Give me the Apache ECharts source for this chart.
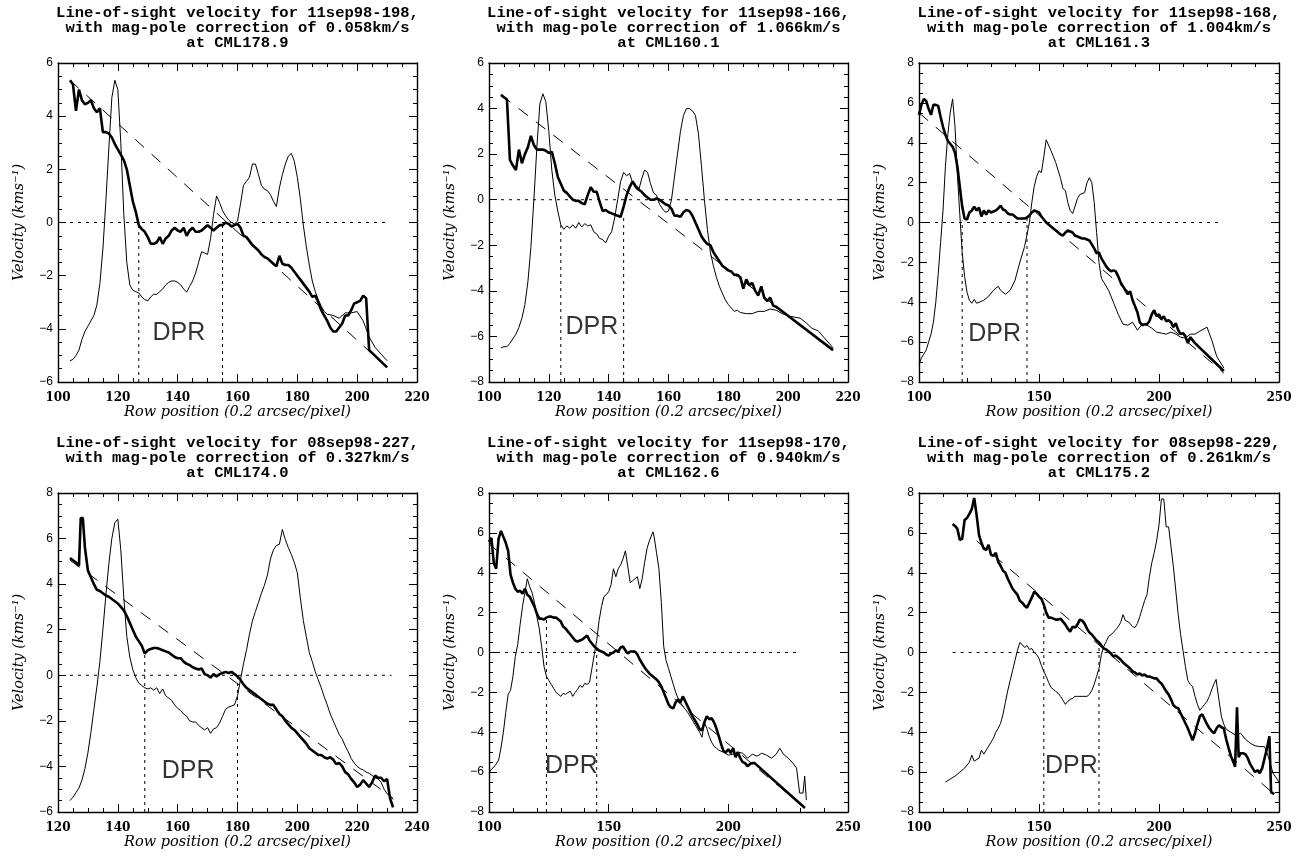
<!DOCTYPE html>
<html><head><meta charset="utf-8">
<script src="https://cdn.jsdelivr.net/npm/echarts@6/dist/echarts.min.js"></script>
<style>html,body{margin:0;padding:0;background:#fff}#c{width:1312px;height:860px}</style>
</head><body><div id="c"></div>
<script>
// ---------- Panel titles ----------
const titles = [
  "Line-of-sight velocity for 11sep98-198,\nwith mag-pole correction of 0.058km/s\nat CML178.9",
  "Line-of-sight velocity for 11sep98-166,\nwith mag-pole correction of 1.066km/s\nat CML160.1",
  "Line-of-sight velocity for 11sep98-168,\nwith mag-pole correction of 1.004km/s\nat CML161.3",
  "Line-of-sight velocity for 08sep98-227,\nwith mag-pole correction of 0.327km/s\nat CML174.0",
  "Line-of-sight velocity for 11sep98-170,\nwith mag-pole correction of 0.940km/s\nat CML162.6",
  "Line-of-sight velocity for 08sep98-229,\nwith mag-pole correction of 0.261km/s\nat CML175.2"
];
const xTitle = "Row position (0.2 arcsec/pixel)";
const yTitle = "Velocity (kms\u207B\u00B9)";
const dprText = "DPR";

// ---------- Axis ranges [min, max, interval, minor splits] ----------
const xRanges = [[100,220,20,4],[100,220,20,4],[100,250,50,5],[120,240,20,4],[100,250,50,5],[100,250,50,5]];
const yRanges = [[-6,6,2,4],[-8,6,2,4],[-8,8,2,4],[-6,8,2,4],[-8,8,2,4],[-8,8,2,4]];

// ---------- Panel 1 ----------
const p1Velocity = [[104,5.35],[105,5.2],[106,4.2],[107,5.0],[108,4.6],[109,4.45],[110,4.5],[111,4.6],[112,4.3],[113,4.15],[114,4.3],[115,3.4],[116,3.4],[117,3.35],[118,3.2],[119,2.95],[120,2.75],[121,2.55],[122,2.35],[123,2.0],[124,1.4],[125,0.8],[126,0.4],[127,-0.1],[128,-0.25],[129,-0.35],[130,-0.55],[131,-0.8],[132,-0.8],[133,-0.75],[134,-0.55],[135,-0.8],[136,-0.6],[137,-0.5],[138,-0.3],[139,-0.2],[140,-0.3],[141,-0.35],[142,-0.2],[143,-0.5],[144,-0.3],[145,-0.2],[146,-0.35],[147,-0.35],[148,-0.3],[149,-0.2],[150,-0.1],[151,-0.2],[152,-0.3],[153,-0.2],[154,-0.1],[155,-0.1],[156,0.0],[157,-0.05],[158,-0.15],[159,-0.1],[160,-0.05],[161,-0.2],[162,-0.5],[163,-0.55],[164,-0.7],[165,-0.85],[166,-0.95],[167,-1.05],[168,-1.2],[169,-1.3],[170,-1.35],[171,-1.45],[172,-1.55],[173,-1.65],[174,-1.25],[175,-1.55],[176,-1.6],[177,-1.6],[178,-1.7],[179,-1.85],[180,-2.0],[181,-2.15],[182,-2.3],[183,-2.45],[184,-2.6],[185,-2.8],[186,-2.75],[187,-3.0],[188,-3.3],[189,-3.5],[190,-3.7],[191,-3.95],[192,-4.1],[193,-4.1],[194,-3.95],[195,-3.8],[196,-3.5],[197,-3.5],[198,-3.3],[199,-3.05],[200,-3.0],[201,-2.95],[202,-2.75],[203,-2.85],[204,-4.8],[210,-5.45]];
const p1Intensity = [[104,-5.2],[105,-5.15],[106,-5.0],[107,-4.8],[108,-4.4],[109,-4.1],[110,-3.9],[111,-3.7],[112,-3.5],[113,-3.1],[114,-2.3],[115,-1.0],[116,0.8],[117,2.8],[118,4.7],[119,5.35],[120,5.0],[121,3.0],[122,0.3],[123,-1.5],[124,-2.35],[125,-2.55],[126,-2.6],[127,-2.65],[128,-2.8],[129,-2.9],[130,-2.95],[131,-2.8],[132,-2.7],[133,-2.7],[134,-2.6],[135,-2.5],[136,-2.35],[137,-2.25],[138,-2.2],[139,-2.2],[140,-2.25],[141,-2.35],[142,-2.5],[143,-2.62],[144,-2.4],[145,-2.2],[146,-1.9],[147,-1.5],[148,-1.1],[149,-1.15],[150,-1.2],[151,-0.6],[152,0.3],[153,1.0],[154,0.75],[155,0.45],[156,0.25],[157,0.1],[158,0.0],[159,-0.05],[160,0.05],[161,0.7],[162,1.4],[163,1.55],[164,1.7],[165,2.2],[166,2.2],[167,1.8],[168,1.4],[169,1.25],[170,1.2],[171,1.05],[172,0.8],[173,0.6],[174,1.3],[175,1.8],[176,2.2],[177,2.5],[178,2.6],[179,2.3],[180,1.7],[181,0.9],[182,-0.1],[183,-0.9],[184,-1.6],[185,-2.2],[186,-2.6],[187,-2.9],[188,-3.15],[189,-3.35],[190,-3.45],[192,-3.5],[194,-3.6],[196,-3.4],[198,-3.4],[200,-3.35],[202,-3.7],[204,-4.3],[206,-4.7],[208,-4.95],[210,-5.2]];
const p1Fit = [[104,5.35],[210,-5.45]];
const p1ZeroSpan = [104,210];
const p1Dpr = [[127,-0.15],[155,-0.1]];
const p1DprAt = [140.4,-4.15];

// ---------- Panel 2 ----------
const p2Velocity = [[104,4.6],[105,4.5],[106,4.4],[107,1.75],[108,1.5],[109,1.3],[110,2.2],[111,1.6],[112,2.0],[113,2.3],[114,2.8],[115,2.4],[116,2.2],[117,2.2],[118,2.2],[119,2.15],[120,2.05],[121,2.1],[122,1.6],[123,1.0],[124,0.7],[125,0.4],[126,0.3],[127,0.15],[128,0.0],[129,-0.05],[130,-0.05],[131,-0.15],[132,-0.2],[133,0.2],[134,0.55],[135,0.35],[136,0.35],[137,-0.1],[138,-0.5],[139,-0.45],[140,-0.55],[141,-0.6],[142,-0.65],[143,-0.7],[144,-0.75],[145,-0.3],[146,0.2],[147,0.55],[148,0.8],[149,0.6],[150,0.45],[151,0.35],[152,0.2],[153,0.1],[154,0.0],[155,0.0],[156,0.05],[157,0.0],[158,-0.1],[159,-0.2],[160,-0.25],[161,-0.4],[162,-0.7],[163,-0.7],[164,-0.75],[165,-0.55],[166,-0.45],[167,-0.5],[168,-0.7],[169,-1.0],[170,-1.3],[171,-1.6],[172,-1.8],[173,-1.95],[174,-2.0],[175,-2.3],[176,-2.5],[177,-2.7],[178,-2.9],[179,-3.0],[180,-3.1],[181,-3.15],[182,-3.3],[183,-3.3],[184,-3.4],[185,-3.9],[186,-3.5],[187,-3.75],[188,-3.65],[189,-4.0],[190,-4.2],[191,-3.8],[192,-4.3],[193,-4.45],[194,-4.3],[195,-4.65],[196,-4.7],[215,-6.6]];
const p2Intensity = [[104,-6.5],[105,-6.45],[106,-6.45],[107,-6.3],[108,-6.1],[109,-5.9],[110,-5.6],[111,-5.2],[112,-4.6],[113,-3.6],[114,-2.1],[115,0.0],[116,2.3],[117,4.2],[118,4.65],[119,4.3],[120,3.0],[121,1.3],[122,0.2],[123,-0.5],[124,-1.1],[125,-1.3],[126,-1.15],[127,-1.25],[128,-1.1],[129,-1.25],[130,-1.0],[131,-1.2],[132,-1.05],[133,-1.15],[134,-1.1],[135,-1.4],[136,-1.5],[137,-1.7],[138,-1.75],[139,-1.9],[140,-1.6],[141,-1.4],[142,-0.8],[143,0.0],[144,0.8],[145,1.2],[146,1.05],[147,1.15],[148,0.75],[149,0.5],[150,0.4],[151,0.9],[152,1.3],[153,1.2],[154,0.7],[155,0.3],[156,0.2],[157,-0.2],[158,-0.4],[159,-0.55],[160,-0.5],[161,0.0],[162,1.0],[163,2.0],[164,3.0],[165,3.7],[166,4.0],[167,4.0],[168,3.9],[169,3.7],[170,2.9],[171,1.5],[172,0.0],[173,-1.3],[174,-2.3],[175,-2.9],[176,-3.4],[177,-3.8],[178,-4.1],[179,-4.4],[180,-4.6],[181,-4.75],[182,-4.9],[183,-4.85],[184,-4.95],[186,-5.0],[188,-5.0],[190,-4.9],[192,-4.9],[194,-4.8],[196,-4.85],[198,-5.0],[200,-5.1],[202,-5.15],[204,-5.2],[206,-5.4],[208,-5.65],[210,-5.75],[212,-6.05],[215,-6.5]];
const p2Fit = [[104,4.6],[215,-6.6]];
const p2ZeroSpan = [104,220];
const p2Dpr = [[124,-1.1],[145,-0.65]];
const p2DprAt = [134.4,-5.6];

// ---------- Panel 3 ----------
const p3Velocity = [[100,5.4],[101,5.9],[102,6.2],[103,6.1],[104,5.7],[105,5.4],[106,5.9],[107,5.9],[108,5.85],[109,5.3],[110,4.8],[111,4.4],[112,4.1],[113,3.95],[114,3.8],[115,3.5],[116,2.8],[117,1.8],[118,0.8],[119,0.2],[120,0.15],[121,0.5],[122,0.6],[123,0.8],[124,0.6],[125,0.75],[126,0.3],[127,0.6],[128,0.4],[129,0.6],[130,0.5],[131,0.55],[132,0.6],[133,0.7],[134,0.85],[135,0.65],[136,0.6],[137,0.45],[138,0.4],[139,0.4],[140,0.3],[141,0.2],[142,0.2],[143,0.2],[144,0.2],[145,0.25],[146,0.35],[147,0.5],[148,0.6],[149,0.55],[150,0.5],[151,0.3],[152,0.15],[153,0.0],[154,-0.1],[155,-0.2],[156,-0.3],[157,-0.4],[158,-0.5],[159,-0.6],[160,-0.65],[161,-0.5],[162,-0.4],[163,-0.45],[164,-0.5],[165,-0.65],[166,-0.7],[167,-0.75],[168,-0.8],[169,-0.8],[170,-0.85],[171,-0.9],[172,-1.1],[173,-1.3],[174,-1.55],[175,-1.5],[176,-1.8],[177,-2.0],[178,-2.2],[179,-2.35],[180,-2.45],[181,-2.4],[182,-2.45],[183,-2.7],[184,-3.0],[185,-3.2],[186,-3.4],[187,-3.6],[188,-3.45],[189,-3.9],[190,-4.2],[191,-4.5],[192,-5.0],[193,-5.15],[194,-5.1],[195,-5.1],[196,-4.95],[197,-4.6],[198,-4.4],[199,-4.7],[200,-4.6],[201,-4.85],[202,-4.7],[203,-4.95],[204,-4.9],[205,-5.0],[206,-5.25],[207,-5.05],[208,-5.4],[209,-5.6],[210,-5.55],[211,-5.7],[212,-6.05],[213,-5.75],[214,-5.9],[215,-6.05],[227,-7.45]];
const p3Intensity = [[100,-7.1],[101,-6.8],[102,-6.6],[103,-6.4],[104,-6.0],[105,-5.6],[106,-5.0],[107,-4.0],[108,-2.6],[109,-1.0],[110,0.6],[111,2.8],[112,4.4],[113,5.5],[114,6.2],[115,4.8],[116,2.4],[117,0.4],[118,-1.5],[119,-2.7],[120,-3.5],[121,-3.9],[122,-4.05],[123,-3.85],[124,-4.05],[125,-4.0],[127,-3.9],[129,-3.7],[131,-3.4],[132,-3.3],[133,-3.2],[134,-3.4],[135,-3.5],[136,-3.6],[138,-3.4],[140,-2.9],[142,-2.0],[144,-1.2],[146,0.0],[147,1.0],[148,1.8],[149,2.3],[150,2.6],[151,2.5],[152,3.3],[153,4.15],[155,3.6],[157,3.0],[159,2.2],[160,1.7],[161,1.6],[162,1.0],[163,0.6],[164,0.45],[165,0.8],[166,1.2],[167,1.4],[169,1.5],[170,2.0],[171,2.25],[172,2.0],[173,1.0],[174,-0.5],[175,-2.0],[176,-2.8],[177,-3.0],[179,-3.4],[181,-4.0],[183,-4.6],[185,-5.1],[187,-5.15],[189,-5.0],[191,-5.4],[193,-5.1],[195,-5.15],[197,-5.3],[199,-5.5],[201,-5.55],[203,-5.6],[205,-5.5],[207,-5.6],[209,-5.75],[211,-5.8],[213,-5.6],[215,-5.6],[217,-5.45],[220,-5.25],[222,-5.9],[224,-6.7],[226,-7.1],[227,-7.3]];
const p3Fit = [[100,5.5],[227,-7.55]];
const p3ZeroSpan = [100,225];
const p3Dpr = [[118,0.1],[145,0.2]];
const p3DprAt = [131.5,-5.6];

// ---------- Panel 4 ----------
const p4Velocity = [[124,5.15],[125,5.05],[126,4.95],[127,4.8],[127.6,6.9],[128.3,6.9],[129,5.6],[130,4.6],[131,4.3],[132,4.0],[133,3.75],[134,3.7],[135,3.6],[136,3.5],[137,3.45],[138,3.35],[139,3.25],[140,3.15],[141,3.0],[142,2.85],[143,2.6],[144,2.3],[145,2.0],[146,1.7],[147,1.5],[148,1.3],[149,0.95],[150,1.1],[151,1.15],[152,1.2],[153,1.2],[154,1.15],[155,1.1],[156,1.05],[157,1.0],[158,0.9],[159,0.8],[160,0.75],[161,0.75],[162,0.6],[163,0.5],[164,0.45],[165,0.35],[166,0.3],[167,0.25],[168,0.3],[169,0.05],[170,0.0],[171,-0.1],[172,0.05],[173,-0.05],[174,0.05],[175,0.1],[176,0.15],[177,0.1],[178,0.15],[179,0.05],[180,-0.05],[181,-0.2],[182,-0.4],[183,-0.55],[184,-0.65],[185,-0.75],[186,-0.85],[187,-0.95],[188,-1.05],[189,-1.15],[190,-1.25],[191,-1.3],[192,-1.3],[193,-1.5],[194,-1.7],[195,-1.8],[196,-2.0],[197,-2.15],[198,-2.3],[199,-2.4],[200,-2.55],[201,-2.7],[202,-2.85],[203,-3.0],[204,-3.2],[205,-3.3],[206,-3.4],[207,-3.5],[208,-3.5],[209,-3.6],[210,-3.65],[211,-3.6],[212,-3.7],[213,-3.9],[214,-3.85],[215,-4.0],[216,-4.25],[217,-4.35],[218,-4.55],[219,-4.7],[220,-4.9],[221,-4.8],[222,-4.6],[223,-4.75],[224,-4.9],[225,-4.7],[226,-4.4],[227,-4.5],[228,-4.5],[229,-4.65],[230,-4.55],[231,-5.4],[232,-5.8]];
const p4Intensity = [[124,-5.5],[125,-5.35],[126,-5.15],[127,-4.95],[128,-4.6],[129,-4.1],[130,-3.4],[131,-2.5],[132,-1.5],[133,-0.5],[134,0.6],[135,2.0],[136,3.5],[137,4.9],[138,6.0],[139,6.7],[140,6.85],[141,5.5],[142,3.4],[143,1.7],[144,0.8],[145,0.25],[146,-0.1],[147,-0.35],[148,-0.45],[149,-0.55],[150,-0.6],[151,-0.55],[152,-0.65],[153,-0.55],[154,-0.8],[155,-0.6],[156,-0.9],[157,-1.0],[158,-1.1],[159,-1.3],[160,-1.45],[161,-1.55],[162,-1.7],[163,-1.8],[164,-2.0],[165,-2.05],[166,-2.05],[167,-2.2],[168,-2.3],[169,-2.4],[170,-2.3],[171,-2.55],[172,-2.35],[173,-2.3],[174,-2.1],[175,-1.8],[176,-1.5],[177,-1.4],[178,-1.35],[179,-1.3],[180,-0.9],[181,-0.2],[182,0.5],[183,1.1],[184,1.8],[185,2.4],[186,2.8],[187,3.2],[188,3.6],[189,3.95],[190,4.4],[191,5.1],[192,5.5],[193,5.7],[194,5.75],[195,6.4],[196,5.95],[197,5.6],[198,5.3],[199,4.95],[200,4.5],[201,3.4],[202,2.4],[203,1.7],[204,1.0],[205,0.6],[206,0.15],[207,-0.2],[208,-0.55],[209,-0.95],[210,-1.3],[211,-1.7],[212,-2.0],[213,-2.3],[214,-2.6],[215,-2.8],[216,-3.1],[217,-3.35],[218,-3.65],[219,-3.85],[220,-4.0],[221,-4.1],[222,-4.15],[223,-4.25],[224,-4.3],[225,-4.4],[226,-4.5],[227,-4.55],[228,-4.7],[229,-5.0],[230,-5.2],[231,-5.3],[232,-5.45]];
const p4Fit = [[124,5.05],[232,-5.4]];
const p4ZeroSpan = [124,231.5];
const p4Dpr = [[149,0.95],[180,-0.05]];
const p4DprAt = [163.5,-4.2];

// ---------- Panel 5 ----------
const p5Velocity = [[100,5.55],[101,5.75],[102,4.5],[103,4.2],[104,5.7],[105,6.1],[106,5.8],[107,5.5],[108,5.1],[109,3.9],[110,3.5],[111,3.2],[112,3.05],[113,3.1],[114,2.95],[115,3.2],[116,2.9],[117,2.8],[118,2.55],[119,2.3],[120,1.95],[121,1.7],[122,1.7],[123,1.65],[124,1.75],[125,1.8],[126,1.8],[127,1.75],[128,1.75],[129,1.65],[130,1.55],[131,1.3],[132,1.2],[133,1.05],[134,0.9],[135,0.75],[136,0.6],[137,0.55],[138,0.6],[139,0.65],[140,0.75],[141,0.85],[142,0.6],[143,0.45],[144,0.3],[145,0.2],[146,0.1],[147,0.05],[148,0.0],[149,-0.1],[150,-0.15],[151,-0.05],[152,0.0],[153,0.1],[154,0.05],[155,0.25],[156,0.3],[157,0.1],[158,-0.05],[159,0.05],[160,0.05],[161,0.05],[162,-0.1],[163,-0.35],[164,-0.55],[165,-0.75],[166,-0.9],[167,-1.05],[168,-1.15],[169,-1.25],[170,-1.35],[171,-1.5],[172,-1.7],[173,-2.0],[174,-2.3],[175,-2.6],[176,-2.75],[177,-2.8],[178,-2.5],[179,-2.35],[180,-2.5],[181,-2.2],[182,-2.45],[183,-2.7],[184,-2.95],[185,-3.2],[186,-3.4],[187,-3.6],[188,-3.85],[189,-3.9],[190,-3.5],[191,-3.2],[192,-3.35],[193,-3.3],[194,-3.5],[195,-3.8],[196,-4.2],[197,-4.6],[198,-4.95],[199,-5.0],[200,-4.85],[201,-5.05],[202,-4.8],[203,-5.25],[204,-5.0],[205,-5.3],[206,-5.5],[207,-5.55],[208,-5.7],[209,-5.6],[210,-5.55],[211,-5.55],[232,-7.8]];
const p5Intensity = [[100,-6.05],[101,-5.85],[102,-5.75],[103,-5.6],[104,-5.4],[105,-4.8],[106,-4.0],[107,-3.0],[108,-2.1],[109,-1.9],[110,-1.2],[111,-0.2],[112,0.4],[113,1.4],[114,2.3],[115,3.0],[116,3.7],[117,3.3],[118,3.0],[119,2.5],[120,1.8],[121,1.2],[122,0.3],[123,-0.7],[124,-1.2],[125,-1.4],[126,-1.6],[127,-1.8],[128,-2.0],[129,-2.1],[130,-2.2],[131,-2.05],[132,-2.1],[133,-2.0],[134,-1.95],[135,-2.2],[136,-2.0],[137,-1.85],[138,-1.65],[139,-1.75],[140,-1.55],[141,-1.6],[142,-1.5],[143,-0.8],[144,-0.1],[145,0.6],[146,1.6],[147,2.3],[148,2.8],[149,2.9],[150,3.05],[151,3.4],[152,4.2],[153,3.8],[154,4.2],[155,4.4],[156,4.7],[157,5.1],[158,4.3],[159,3.5],[160,3.6],[161,3.7],[162,3.8],[163,3.2],[164,3.7],[165,4.5],[166,5.2],[167,5.6],[168,5.9],[168.5,6.05],[169,5.8],[170,5.0],[171,4.2],[172,2.5],[173,0.3],[174,-0.4],[175,-0.8],[176,-1.2],[177,-1.6],[178,-2.0],[179,-2.3],[180,-2.5],[181,-2.7],[182,-2.85],[183,-3.0],[184,-3.2],[185,-3.4],[186,-3.6],[187,-3.8],[188,-4.0],[189,-4.25],[190,-3.5],[191,-3.8],[192,-4.2],[193,-4.5],[194,-4.7],[195,-4.8],[196,-4.9],[198,-5.0],[200,-5.15],[202,-5.1],[204,-5.0],[206,-5.05],[208,-5.3],[210,-5.1],[212,-5.2],[214,-5.05],[216,-5.15],[218,-5.3],[220,-5.1],[221.5,-4.8],[223,-5.1],[225,-5.3],[227,-5.55],[228.5,-5.8],[229.8,-7.05],[231.2,-7.05],[231.9,-6.2],[232.6,-7.4]];
const p5Fit = [[100,5.45],[232,-7.8]];
const p5ZeroSpan = [100,229];
const p5Dpr = [[124,1.8],[145,0.15]];
const p5DprAt = [134.4,-5.7];

// ---------- Panel 6 ----------
const p6Velocity = [[114,6.45],[115,6.35],[116,6.2],[117,5.65],[118,5.7],[119,6.65],[120,6.75],[121,6.95],[122,7.2],[123,7.75],[124,6.9],[125,5.9],[126,5.5],[127,5.2],[128,5.15],[129,5.4],[130,4.9],[131,4.85],[132,5.0],[133,4.55],[134,4.35],[135,4.1],[136,4.0],[137,3.7],[138,3.45],[139,3.2],[140,3.05],[141,2.9],[142,2.6],[143,2.5],[144,2.35],[145,2.25],[146,2.5],[147,2.75],[148,3.05],[149,2.95],[150,2.8],[151,2.7],[152,2.4],[153,2.0],[154,1.75],[155,1.75],[156,1.7],[157,1.65],[158,1.65],[159,1.7],[160,1.55],[161,1.4],[162,1.2],[163,1.05],[164,1.3],[165,1.25],[166,1.4],[167,1.65],[168,1.6],[169,1.45],[170,1.2],[171,1.0],[172,0.9],[173,0.75],[174,0.6],[175,0.5],[176,0.35],[177,0.2],[178,0.15],[179,0.05],[180,-0.05],[181,-0.2],[182,-0.15],[183,-0.25],[184,-0.35],[185,-0.5],[186,-0.6],[187,-0.7],[188,-0.8],[189,-0.95],[190,-1.0],[191,-1.1],[192,-1.05],[193,-1.15],[194,-1.1],[195,-1.2],[196,-1.2],[197,-1.25],[198,-1.3],[199,-1.3],[200,-1.45],[201,-1.55],[202,-1.75],[203,-1.95],[204,-2.1],[205,-2.35],[206,-2.65],[207,-2.75],[208,-2.8],[209,-3.05],[210,-3.3],[211,-3.55],[212,-3.8],[213,-4.1],[214,-4.4],[215,-4.05],[216,-3.6],[217,-3.2],[218,-3.1],[219,-3.35],[220,-3.6],[221,-3.8],[222,-3.95],[223,-4.05],[224,-3.8],[225,-3.65],[226,-3.75],[227,-3.8],[228,-4.35],[229,-4.8],[230,-5.2],[231,-5.5],[231.7,-5.73],[232.5,-2.75],[233.2,-5.25],[234,-5.05],[235,-5.05],[236,-5.1],[237,-5.3],[238,-5.6],[239,-5.8],[240,-6.0],[241,-5.9],[242,-6.05],[243,-5.8],[244,-5.3],[245,-4.8],[246,-4.2],[246.7,-7.0],[248,-7.1]];
const p6Intensity = [[111,-6.5],[113,-6.35],[115,-6.2],[117,-6.0],[119,-5.8],[121,-5.5],[122,-5.15],[123,-5.45],[125,-5.3],[126,-4.9],[127,-5.1],[128,-4.9],[130,-4.5],[131,-4.3],[132,-4.0],[133,-3.8],[134,-3.55],[135,-3.1],[136,-2.5],[137,-1.9],[138,-1.4],[139,-0.9],[140,-0.4],[141,0.1],[142,0.5],[143,0.4],[144,0.25],[145,0.35],[146,0.15],[147,0.2],[148,0.0],[149,-0.1],[150,-0.3],[151,-0.65],[152,-0.95],[153,-1.2],[154,-1.5],[155,-1.75],[156,-1.85],[157,-1.95],[158,-2.05],[159,-2.2],[160,-2.4],[161,-2.6],[162,-2.45],[163,-2.35],[164,-2.3],[165,-2.2],[166,-2.2],[168,-2.2],[170,-2.2],[171,-2.1],[172,-1.9],[173,-1.6],[174,-1.2],[175,-0.8],[176,-0.1],[177,0.3],[178,0.55],[179,0.8],[180,0.9],[181,1.0],[182,1.15],[183,1.3],[184,1.5],[185,1.9],[186,1.6],[187,1.55],[188,1.45],[189,1.3],[190,1.25],[191,1.45],[192,1.8],[193,2.2],[194,2.6],[195,2.9],[196,3.8],[197,4.5],[198,5.0],[199,5.6],[200,6.4],[201,7.7],[202,7.7],[203,6.3],[204,6.3],[205,5.3],[206,4.3],[207,3.1],[208,1.9],[209,0.9],[210,0.1],[211,-0.7],[212,-1.4],[213,-1.6],[214,-1.7],[215,-2.2],[216,-2.6],[217,-2.9],[218,-2.75],[219,-2.6],[220,-2.45],[221,-2.2],[222,-1.85],[223,-1.55],[223.8,-1.35],[225,-2.4],[226,-3.2],[227,-3.6],[228,-3.85],[230,-4.0],[232,-4.15],[234,-4.05],[236,-4.35],[238,-4.55],[240,-4.68],[242,-4.72],[244,-4.72],[245.5,-5.2],[247.5,-6.05],[250,-6.5]];
const p6Fit = [[124,5.6],[248,-7.1]];
const p6ZeroSpan = [114,250];
const p6Dpr = [[152,2.3],[175,0.5]];
const p6DprAt = [163.5,-5.7];

const panels = [
  {vel:p1Velocity, inten:p1Intensity, fit:p1Fit, zero:p1ZeroSpan, dpr:p1Dpr, dprAt:p1DprAt},
  {vel:p2Velocity, inten:p2Intensity, fit:p2Fit, zero:p2ZeroSpan, dpr:p2Dpr, dprAt:p2DprAt},
  {vel:p3Velocity, inten:p3Intensity, fit:p3Fit, zero:p3ZeroSpan, dpr:p3Dpr, dprAt:p3DprAt},
  {vel:p4Velocity, inten:p4Intensity, fit:p4Fit, zero:p4ZeroSpan, dpr:p4Dpr, dprAt:p4DprAt},
  {vel:p5Velocity, inten:p5Intensity, fit:p5Fit, zero:p5ZeroSpan, dpr:p5Dpr, dprAt:p5DprAt},
  {vel:p6Velocity, inten:p6Intensity, fit:p6Fit, zero:p6ZeroSpan, dpr:p6Dpr, dprAt:p6DprAt}
];

// ---------- Layout ----------
const colLeft = [58, 489, 919];
const colWidth = [359, 359, 360];
const rowTop = [63, 493];
const plotHeight = 319;

const option = {animation:false, backgroundColor:'#ffffff', grid:[], xAxis:[], yAxis:[], series:[], graphic:[]};
const black = '#000000';

function axisBase(r){
  return {
    type:'value', min:r[0], max:r[1], interval:r[2],
    axisLine:{show:true, onZero:false, lineStyle:{color:black, width:1.4}},
    axisTick:{show:true, inside:true, length:8, lineStyle:{color:black, width:1}},
    minorTick:{show:true, splitNumber:r[3], length:4, lineStyle:{color:black, width:1}},
    splitLine:{show:false}, minorSplitLine:{show:false}
  };
}

panels.forEach((p, i) => {
  const col = i % 3, row = Math.floor(i / 3);
  const L = colLeft[col], W = colWidth[col], T = rowTop[row];
  option.grid.push({left:L, top:T, width:W, height:plotHeight});
  const xr = xRanges[i], yr = yRanges[i];
  option.xAxis.push(Object.assign(axisBase(xr), {
    gridIndex:i, position:'bottom',
    axisLabel:{show:true, margin:10, fontFamily:'DejaVu Serif', fontWeight:'bold', fontSize:12, color:black, showMinLabel:true, showMaxLabel:true},
    name:xTitle, nameLocation:'middle', nameGap:21,
    nameTextStyle:{fontFamily:'DejaVu Serif', fontStyle:'italic', fontSize:14.5, color:black}
  }));
  option.xAxis.push(Object.assign(axisBase(xr), {gridIndex:i, position:'top', axisLabel:{show:false}}));
  option.yAxis.push(Object.assign(axisBase(yr), {
    gridIndex:i, position:'left',
    axisLabel:{show:true, margin:5, fontFamily:'Liberation Sans', fontSize:12, color:black, showMinLabel:true, showMaxLabel:true,
      formatter: v => String(v).replace('-', '\u2212')},
    name:yTitle, nameLocation:'middle', nameRotate:90, nameGap:31,
    nameTextStyle:{fontFamily:'DejaVu Serif', fontStyle:'italic', fontSize:14.5, color:black}
  }));
  option.yAxis.push(Object.assign(axisBase(yr), {gridIndex:i, position:'right', axisLabel:{show:false}}));

  const xi = 2 * i, yi = 2 * i;
  const lineBase = {type:'line', xAxisIndex:xi, yAxisIndex:yi, showSymbol:false, symbol:'none', silent:true, smooth:false};
  option.series.push(Object.assign({}, lineBase, {data:p.zero.map(x => [x, 0]), lineStyle:{color:black, width:1, type:[3,5]}}));
  p.dpr.forEach(d => {
    option.series.push(Object.assign({}, lineBase, {data:[[d[0], yr[0]], [d[0], d[1]]], lineStyle:{color:black, width:1, type:[3,4]}}));
  });
  option.series.push(Object.assign({}, lineBase, {data:p.fit, lineStyle:{color:black, width:1, type:[12,10]}}));
  option.series.push(Object.assign({}, lineBase, {data:p.inten, lineStyle:{color:black, width:1}}));
  option.series.push(Object.assign({}, lineBase, {data:p.vel, lineStyle:{color:black, width:2.6}}));
  option.series.push({type:'scatter', xAxisIndex:xi, yAxisIndex:yi, silent:true, symbolSize:1,
    itemStyle:{color:'transparent'}, data:[p.dprAt],
    label:{show:true, position:'inside', formatter:dprText, fontFamily:'Liberation Sans', fontSize:25, color:black}});

  option.graphic.push({type:'text', x:L + W / 2, y:T - 57, silent:true,
    style:{text:titles[i], x:0, y:0, align:'center', verticalAlign:'top',
      font:'bold 15.5px "Liberation Mono"', lineHeight:15, fill:black}});
});

const chart = echarts.init(document.getElementById('c'), null, {renderer:'canvas'});
chart.setOption(option);
</script>
</body></html>
